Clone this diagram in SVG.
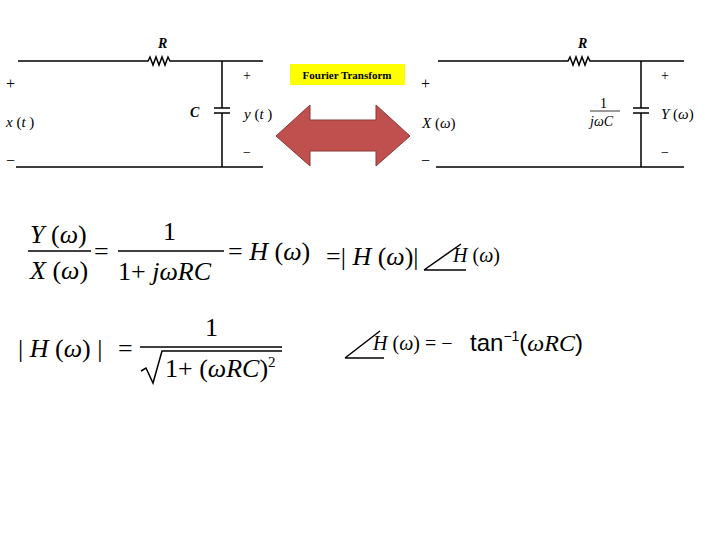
<svg xmlns="http://www.w3.org/2000/svg" width="720" height="540" viewBox="0 0 720 540">
<style>
.w{stroke:#000;stroke-width:1.5;fill:none}
.t{font-family:"Liberation Serif",serif;fill:#000}
.i{font-style:italic}
.m{font-family:"Liberation Serif",serif;font-size:26px}
</style>
<rect width="720" height="540" fill="#fff"/>
<g id="circuit-time">
<path class="w" d="M18 61H148l2-4 3 8 3-8 3 8 3-8 3 8 3-8 2 4H263M16 167H263M222 61V108M222 113V167M214 108H230M214 113H230"/>
<text class="t i" x="158" y="48" font-size="14" font-weight="bold">R</text>
<text class="t i" x="190" y="117" font-size="14" font-weight="bold">C</text>
<text class="t" x="6" y="89" font-size="16">+</text>
<text class="t" x="6" y="166" font-size="16">−</text>
<text class="t" x="243" y="80" font-size="14" fill="#999">+</text>
<text class="t" x="243" y="157" font-size="14">−</text>
<text class="t" x="6" y="127" font-size="15"><tspan class="i">x</tspan> (<tspan class="i">t</tspan> )</text>
<text class="t" x="244" y="119" font-size="15"><tspan class="i">y</tspan> (<tspan class="i">t</tspan> )</text>
</g>
<g id="circuit-freq">
<path class="w" d="M438 61H568l2-4 3 8 3-8 3 8 3-8 3 8 3-8 2 4H684M436 167H684M641 61V108M641 113V167M633 108H649M633 113H649"/>
<text class="t i" x="578" y="48" font-size="14" font-weight="bold">R</text>
<text class="t" x="600" y="108" font-size="14">1</text>
<line x1="590" y1="111" x2="620" y2="111" stroke="#000" stroke-width="0.8"/>
<text class="t i" x="590" y="126" font-size="14">jωC</text>
<text class="t" x="421" y="89" font-size="16">+</text>
<text class="t" x="421" y="166" font-size="16">−</text>
<text class="t" x="661" y="80" font-size="14">+</text>
<text class="t" x="661" y="157" font-size="14">−</text>
<text class="t" x="422" y="128" font-size="15"><tspan class="i">X</tspan> (<tspan class="i">ω</tspan>)</text>
<text class="t" x="661" y="119" font-size="15"><tspan class="i">Y</tspan> (<tspan class="i">ω</tspan>)</text>
</g>
<g id="transform">
<rect x="290" y="64" width="115" height="21" fill="#ffff00"/>
<text class="t" x="347" y="79" font-size="11" font-weight="bold" text-anchor="middle">Fourier Transform</text>
<path d="M276 136L310 105V120H376V105L410 136L376 166V151H310V166Z" fill="#c0504d" stroke="#8c3836" stroke-width="1"/>
</g>
<g id="equations">
<text class="m" x="30" y="243"><tspan class="i">Y</tspan> (<tspan class="i">ω</tspan>)</text>
<line x1="28" y1="251" x2="91" y2="251" stroke="#000" stroke-width="1.5"/>
<text class="m" x="30" y="279"><tspan class="i">X</tspan> (<tspan class="i">ω</tspan>)</text>
<text class="m" x="94" y="260">=</text>
<text class="m" x="163" y="240">1</text>
<line x1="118" y1="251" x2="224" y2="251" stroke="#000" stroke-width="1.5"/>
<text class="m" x="118" y="280">1+ <tspan class="i">jωRC</tspan></text>
<text class="m" x="228" y="260">= <tspan class="i">H</tspan> (<tspan class="i">ω</tspan>)</text>
<text class="m" x="326" y="265" font-size="24">=| <tspan class="i">H</tspan> (<tspan class="i">ω</tspan>)|</text>
<path class="w" d="M424 270L461 244M424 270H466"/>
<text class="t" x="453" y="262" font-size="20"><tspan class="i">H</tspan> (<tspan class="i">ω</tspan>)</text>
<text class="m" x="18" y="357">| <tspan class="i">H</tspan> (<tspan class="i">ω</tspan>) |</text>
<text class="m" x="118" y="357">=</text>
<text class="m" x="205" y="336">1</text>
<line x1="140" y1="347" x2="282" y2="347" stroke="#000" stroke-width="1.5"/>
<path class="w" d="M141 371L146 368L153 383L162 351H282"/>
<text class="m" x="165" y="377">1+ (<tspan class="i">ωRC</tspan>)<tspan font-size="15" dy="-10">2</tspan></text>
<path class="w" d="M345 358L380 331M345 358H384"/>
<text class="t" x="373" y="350" font-size="20"><tspan class="i">H</tspan> (<tspan class="i">ω</tspan>) = −</text>
<text x="470" y="351" font-family="Liberation Sans,sans-serif" font-size="24">tan<tspan font-size="14" dy="-10">−1</tspan><tspan dy="10">(</tspan><tspan font-family="Liberation Serif,serif" font-style="italic">ωRC</tspan>)</text>
</g>
</svg>
